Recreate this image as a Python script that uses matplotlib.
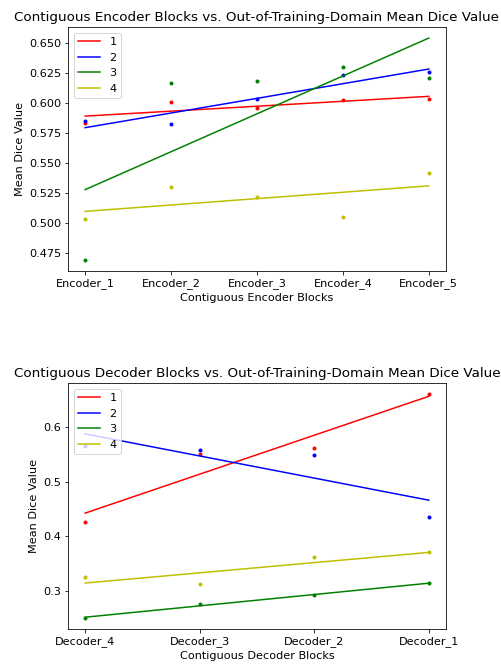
import numpy as np
import matplotlib
matplotlib.use("Agg")
import matplotlib.pyplot as plt
from matplotlib.ticker import MultipleLocator, FormatStrFormatter

# ── Data: mean Dice per run, for each contiguous block ───────────────────────
ENC_LABELS = ["Encoder_1", "Encoder_2", "Encoder_3", "Encoder_4", "Encoder_5"]
DEC_LABELS = ["Decoder_4", "Decoder_3", "Decoder_2", "Decoder_1"]
RUNS = ["1", "2", "3", "4"]
COLORS = ["r", "b", "g", "y"]

enc_run1 = [0.5834, 0.6007, 0.5961, 0.6027, 0.6029]
enc_run2 = [0.5848, 0.5823, 0.6029, 0.6233, 0.6252]
enc_run3 = [0.4695, 0.6167, 0.6178, 0.6299, 0.6203]
enc_run4 = [0.5031, 0.5300, 0.5218, 0.5050, 0.5421]

dec_run1 = [0.4261, 0.5504, 0.5608, 0.6600]
dec_run2 = [0.5660, 0.5584, 0.5480, 0.4347]
dec_run3 = [0.2510, 0.2754, 0.2920, 0.3146]
dec_run4 = [0.3250, 0.3128, 0.3618, 0.3710]

enc_runs = [enc_run1, enc_run2, enc_run3, enc_run4]
dec_runs = [dec_run1, dec_run2, dec_run3, dec_run4]

plt.rcParams.update({"font.size": 11.2})

fig = plt.figure(figsize=(501 / 72, 664 / 72), dpi=72)
ax_enc = fig.add_axes([0.1357, 0.5919, 0.7545, 0.3675])
ax_dec = fig.add_axes([0.1357, 0.0527, 0.7545, 0.3705])


def draw_panel(ax, labels, runs, title, xlabel):
    x = np.arange(len(labels))
    for name, vals, c in zip(RUNS, runs, COLORS):
        slope, icpt = np.polyfit(x, vals, 1)   # linear trend per run
        ax.plot(x, slope * x + icpt, color=c, label=name)
        ax.plot(x, vals, ".", color=c)
    ax.set_xticks(x)
    ax.set_xticklabels(labels)
    ax.set_title(title)
    ax.set_xlabel(xlabel)
    ax.set_ylabel("Mean Dice Value")
    ax.legend(loc="upper left")


draw_panel(ax_enc, ENC_LABELS, enc_runs,
           "Contiguous Encoder Blocks vs. Out-of-Training-Domain Mean Dice Value",
           "Contiguous Encoder Blocks")
draw_panel(ax_dec, DEC_LABELS, dec_runs,
           "Contiguous Decoder Blocks vs. Out-of-Training-Domain Mean Dice Value",
           "Contiguous Decoder Blocks")

ax_enc.yaxis.set_major_locator(MultipleLocator(0.025))
ax_enc.yaxis.set_major_formatter(FormatStrFormatter("%.3f"))
ax_dec.yaxis.set_major_locator(MultipleLocator(0.1))
ax_dec.yaxis.set_major_formatter(FormatStrFormatter("%.1f"))

fig.savefig("out.png", dpi=72)
